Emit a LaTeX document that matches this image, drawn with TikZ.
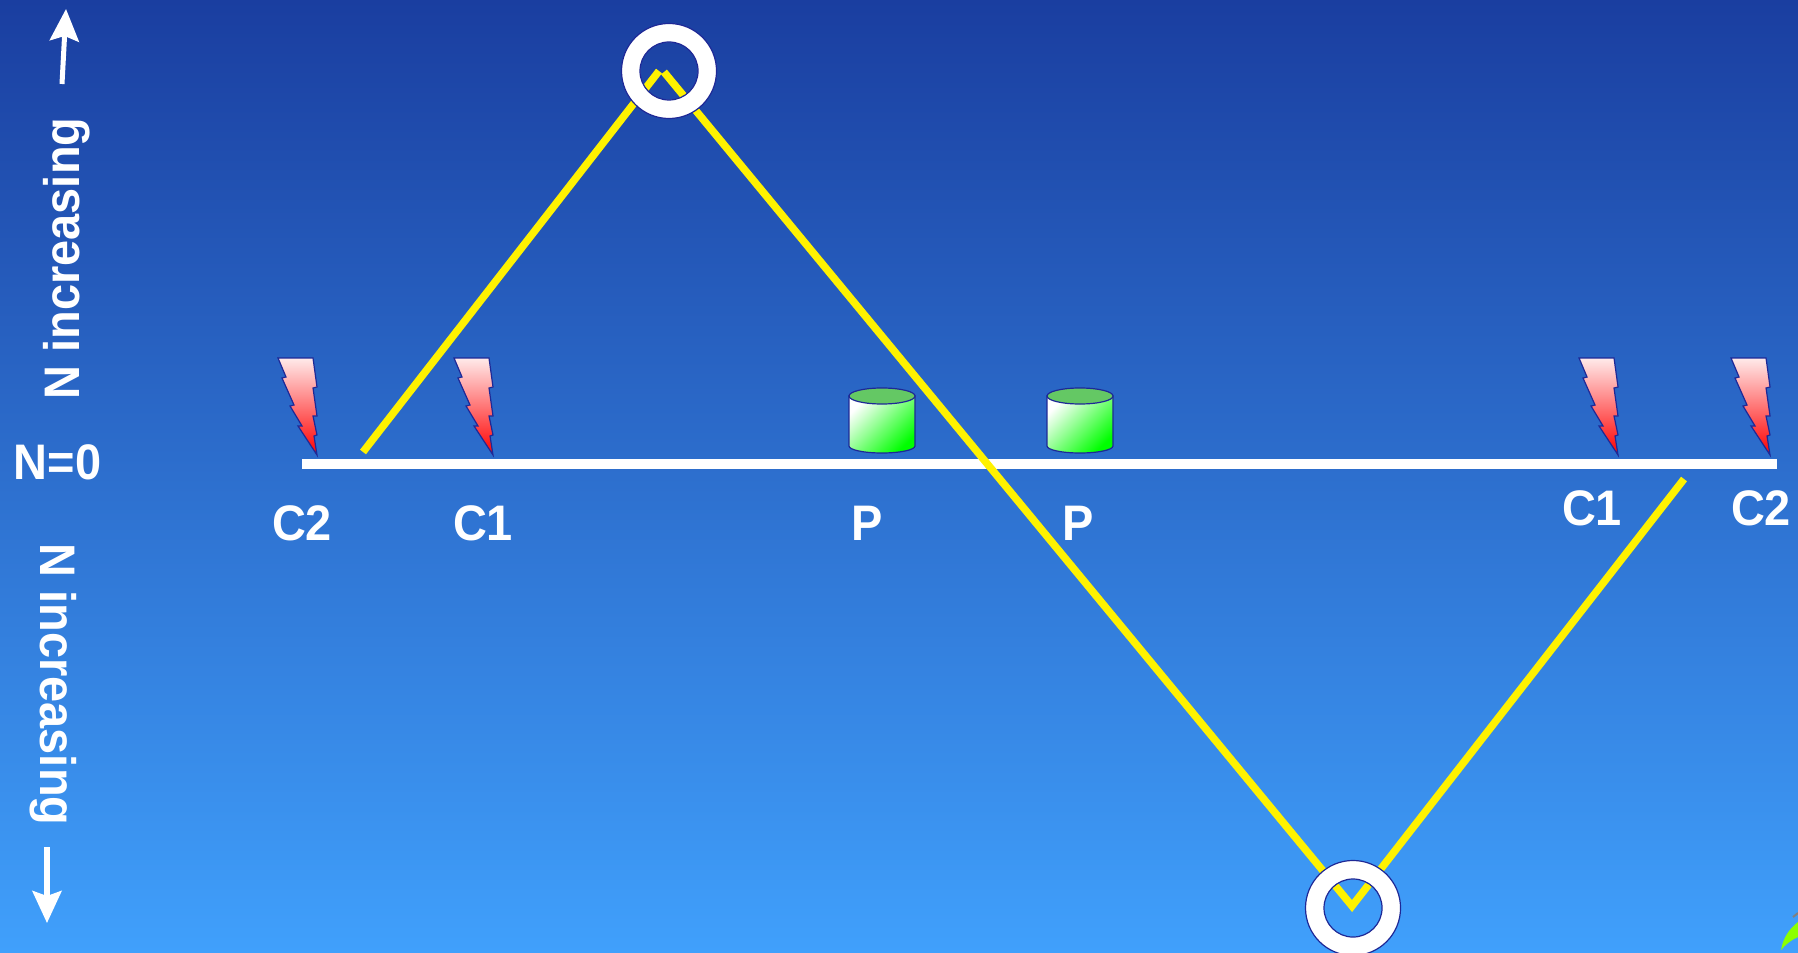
\documentclass[tikz,border=0pt]{standalone}
\usepackage{fontspec}
\setmainfont[FakeStretch=0.94]{Liberation Sans}
\usetikzlibrary{arrows.meta}
\definecolor{skytop}{RGB}{26,62,160}
\definecolor{skybottom}{RGB}{64,160,252}
\definecolor{ringedge}{RGB}{30,40,150}
\definecolor{lidgreen}{RGB}{100,200,100}
\definecolor{leafgreen}{RGB}{140,255,0}
\tikzset{
  axisline/.style={white, line width=0.1cm},
  signal/.style={yellow, line width=0.075cm, line join=miter},
  label/.style={white, inner sep=0pt, font=\fontsize{14.2}{17}\selectfont\bfseries},
  sidearrow/.style={white, line width=0.05cm, -{Stealth[length=0.32cm,width=0.29cm,inset=0.05cm]}},
  ring/.style={draw=ringedge, line width=0.012cm, fill=white, even odd rule},
  bolt/.pic={
    \shadedraw[draw=ringedge, line width=0.012cm, top color=red!8!white, middle color=red!65!white, bottom color=red]
      (0,0) -- (35,0) -- (39,29) -- (35,30) -- (39,58) -- (35,58) -- (39,77) -- (36,78) -- (39,97)
      -- (20,68) -- (24,68) -- (12,48) -- (16,47) -- (4,20) -- (8,19) -- cycle;
  },
  drum/.pic={
    \shadedraw[draw=ringedge, line width=0.012cm, left color=white, middle color=green!50!white, right color=green, shading angle=45]
      (-33,0) -- (-33,50) arc[start angle=180, end angle=360, x radius=33, y radius=-7] -- (33,0) -- cycle;
    \draw[ringedge, line width=0.012cm, fill=lidgreen] (0,0) ellipse[x radius=0.33cm, y radius=0.08cm];
  }
}
\begin{document}
\begin{tikzpicture}[x=0.01cm, y=-0.01cm]
\useasboundingbox (0,0) rectangle (1798,952);
\shade[top color=skytop, bottom color=skybottom] (0,0) rectangle (1798,952);
% base line
\coordinate (lineleft) at (302,464);
\coordinate (lineright) at (1777,464);
\draw[axisline] (lineleft) -- (lineright);
% reflections
\coordinate (startpt) at (363,452);
\coordinate (apexleft) at (659,71);
\coordinate (apexright) at (664,72);
\coordinate (valley) at (1352,906);
\coordinate (endpt) at (1684,479);
\draw[signal] (startpt) -- (apexleft);
\draw[signal] (apexright) -- (valley) -- (endpt);
\coordinate (ringtop) at (669,71);
\coordinate (ringbottom) at (1353,908);
\draw[ring] (ringtop) circle[radius=0.475cm] (ringtop) circle[radius=0.29cm];
\draw[ring] (ringbottom) circle[radius=0.475cm] (ringbottom) circle[radius=0.29cm];
% charges
\pic at (278,358) {bolt};
\pic at (454,358) {bolt};
\pic at (1579,358) {bolt};
\pic at (1731,358) {bolt};
\pic at (882,396) {drum};
\pic at (1080,396) {drum};
\node[label] (c2left) at (302,523) {C2};
\node[label] (c1left) at (483,523) {C1};
\node[label] (pleft) at (867,523) {P};
\node[label] (pright) at (1078,523) {P};
\node[label] (c1right) at (1592,508) {C1};
\node[label] (c2right) at (1761,508) {C2};
\node[label] (nzero) at (57.5,462) {N=0};
% side labels
\node[label, rotate=90, anchor=base west] (upname) at (79,400) {N increasing};
\node[label, rotate=-90, anchor=base west] (downname) at (41,543) {N increasing};
\coordinate (uptail) at (62,84);
\coordinate (uptip) at (66,9);
\coordinate (downtail) at (47,847);
\coordinate (downtip) at (47,923);
\draw[sidearrow] (uptail) -- (uptip);
\draw[sidearrow] (downtail) -- (downtip);
% corner of the next shape
\fill[leafgreen] (1781,950) .. controls (1783,938) and (1789,929) .. (1798,922) -- (1798,937) .. controls (1791,940) and (1785,945) .. cycle;
\draw[gray, line width=0.02cm] (1793,917) -- (1798,913);
\end{tikzpicture}
\end{document}
